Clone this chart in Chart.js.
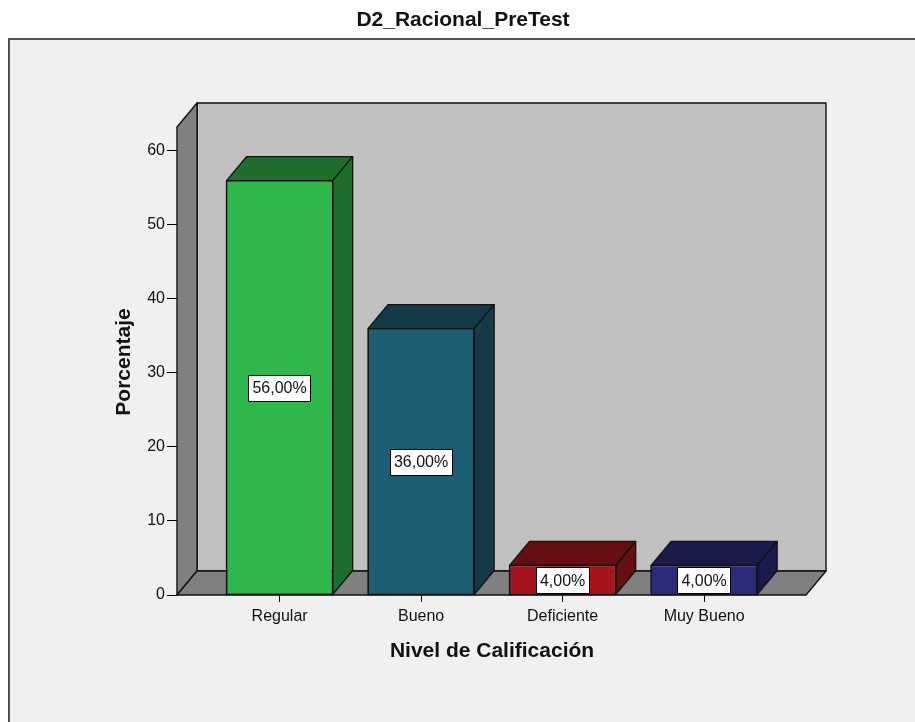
<!DOCTYPE html>
<html>
<head>
<meta charset="utf-8">
<script src="https://cdn.jsdelivr.net/npm/chart.js@4/dist/chart.umd.min.js"></script>
<style>
  html, body { margin: 0; padding: 0; background: #ffffff; }
  canvas { display: block; }
</style>
</head>
<body>
<canvas id="c" width="915" height="722"></canvas>
<script>
// ---- data ----
const chartTitle = "D2_Racional_PreTest";
const xTitle = "Nivel de Calificación";
const yTitle = "Porcentaje";
const categories = ["Regular", "Bueno", "Deficiente", "Muy Bueno"];
const percentages = [56, 36, 4, 4];
const yTicks = [0, 10, 20, 30, 40, 50, 60];
const frontColors = ["#2eb84b", "#1c5e74", "#a5151b", "#2b2b7c"];
const sideColors = ["#1e6e2d", "#143a47", "#650f12", "#1b1b4b"];

// ---- style constants ----
const DEPTH_X = 20, DEPTH_Y = -24;
const FONT = '"Liberation Sans", Arial, sans-serif';
const EDGE = "#111111";

const fmt = v => v.toFixed(2).replace('.', ',') + '%';

const scenePlugin = {
  id: 'scene',
  beforeDraw(chart) {
    const ctx = chart.ctx;
    ctx.save();
    ctx.fillStyle = '#ffffff';
    ctx.fillRect(0, 0, chart.width, chart.height);
    ctx.fillStyle = '#f0f0f0';
    ctx.fillRect(9, 39, chart.width - 9, chart.height - 39);
    ctx.strokeStyle = '#505050';
    ctx.lineWidth = 2;
    ctx.beginPath();
    ctx.moveTo(9, chart.height);
    ctx.lineTo(9, 39);
    ctx.lineTo(chart.width, 39);
    ctx.stroke();
    ctx.restore();
  },
  beforeDatasetsDraw(chart) {
    const ctx = chart.ctx;
    const a = chart.chartArea;
    const L = a.left, R = a.right, T = a.top, B = a.bottom;
    ctx.save();
    ctx.lineWidth = 1.4;
    ctx.strokeStyle = EDGE;
    ctx.lineJoin = 'round';
    // back wall
    ctx.fillStyle = '#c0c0c0';
    ctx.beginPath();
    ctx.rect(L + DEPTH_X, T + DEPTH_Y, R - L, B - T);
    ctx.fill(); ctx.stroke();
    // left wall
    ctx.fillStyle = '#808080';
    ctx.beginPath();
    ctx.moveTo(L, B);
    ctx.lineTo(L, T);
    ctx.lineTo(L + DEPTH_X, T + DEPTH_Y);
    ctx.lineTo(L + DEPTH_X, B + DEPTH_Y);
    ctx.closePath();
    ctx.fill(); ctx.stroke();
    // floor
    ctx.beginPath();
    ctx.moveTo(L, B);
    ctx.lineTo(R, B);
    ctx.lineTo(R + DEPTH_X, B + DEPTH_Y);
    ctx.lineTo(L + DEPTH_X, B + DEPTH_Y);
    ctx.closePath();
    ctx.fill(); ctx.stroke();
    ctx.restore();
  },
  afterDatasetsDraw(chart) {
    const ctx = chart.ctx;
    const meta = chart.getDatasetMeta(0);
    const yScale = chart.scales.y;
    ctx.save();
    ctx.lineWidth = 1.3;
    ctx.strokeStyle = EDGE;
    ctx.lineJoin = 'round';
    meta.data.forEach((bar, i) => {
      const p = bar.getProps(['x', 'y', 'base', 'width'], true);
      const l = p.x - p.width / 2, r = p.x + p.width / 2, t = p.y, b = p.base;
      ctx.fillStyle = sideColors[i];
      // top face
      ctx.beginPath();
      ctx.moveTo(l, t);
      ctx.lineTo(l + DEPTH_X, t + DEPTH_Y);
      ctx.lineTo(r + DEPTH_X, t + DEPTH_Y);
      ctx.lineTo(r, t);
      ctx.closePath();
      ctx.fill(); ctx.stroke();
      // side face
      ctx.beginPath();
      ctx.moveTo(r, t);
      ctx.lineTo(r + DEPTH_X, t + DEPTH_Y);
      ctx.lineTo(r + DEPTH_X, b + DEPTH_Y);
      ctx.lineTo(r, b);
      ctx.closePath();
      ctx.fill(); ctx.stroke();
      // front outline (crisper)
      ctx.strokeRect(l, t, r - l, b - t);
    });
    // value labels
    ctx.font = '16px ' + FONT;
    ctx.textAlign = 'center';
    ctx.textBaseline = 'middle';
    ctx.lineWidth = 1;
    meta.data.forEach((bar, i) => {
      const txt = fmt(percentages[i]);
      const cx = bar.x;
      const cy = yScale.getPixelForValue(percentages[i] / 2);
      const w = ctx.measureText(txt).width + 8;
      const h = 26;
      ctx.fillStyle = '#ffffff';
      ctx.fillRect(Math.round(cx - w / 2) + 0.5, Math.round(cy - h / 2) + 0.5, Math.round(w), h);
      ctx.strokeStyle = '#000000';
      ctx.strokeRect(Math.round(cx - w / 2) + 0.5, Math.round(cy - h / 2) + 0.5, Math.round(w), h);
      ctx.fillStyle = '#111111';
      ctx.fillText(txt, cx, cy + 1);
    });
    ctx.restore();
  },
  afterDraw(chart) {
    const ctx = chart.ctx;
    ctx.save();
    ctx.fillStyle = '#111111';
    ctx.textAlign = 'center';
    ctx.textBaseline = 'middle';
    ctx.font = 'bold 21px ' + FONT;
    ctx.fillText(chartTitle, 463, 20);
    ctx.fillText(xTitle, 492, 651);
    ctx.translate(124, 362);
    ctx.rotate(-Math.PI / 2);
    ctx.fillText(yTitle, 0, 0);
    ctx.restore();
  }
};

new Chart(document.getElementById('c'), {
  type: 'bar',
  data: {
    datasets: [{
      data: percentages.map((v, i) => ({ x: i, y: v })),
      backgroundColor: frontColors,
      borderColor: EDGE,
      borderWidth: 1,
      borderSkipped: false,
      barPercentage: 0.75,
      categoryPercentage: 1
    }]
  },
  options: {
    responsive: false,
    devicePixelRatio: 1,
    animation: false,
    layout: { padding: { top: 127, right: 109, left: 0, bottom: 0 } },
    plugins: { legend: { display: false }, title: { display: false }, tooltip: { enabled: false } },
    scales: {
      x: {
        type: 'linear',
        offset: false,
        min: -0.725,
        max: 3.72,
        afterBuildTicks: s => { s.ticks = categories.map((c, i) => ({ value: i })); },
        afterFit: s => { s.height = 127; },
        ticks: {
          autoSkip: false, maxRotation: 0, padding: 5,
          color: '#111111',
          font: { family: FONT, size: 16 },
          callback: v => categories[v]
        },
        grid: { display: true, drawOnChartArea: false, drawTicks: true, tickLength: 7, color: '#000000', offset: false },
        border: { display: false }
      },
      y: {
        min: 0,
        max: 63.24,
        afterBuildTicks: s => { s.ticks = yTicks.map(v => ({ value: v })); },
        afterFit: s => { s.width = 177; },
        ticks: {
          padding: 2,
          color: '#111111',
          font: { family: FONT, size: 16 }
        },
        grid: { display: true, drawOnChartArea: false, drawTicks: true, tickLength: 10, color: '#000000' },
        border: { display: false }
      }
    }
  },
  plugins: [scenePlugin]
});
</script>
</body>
</html>
